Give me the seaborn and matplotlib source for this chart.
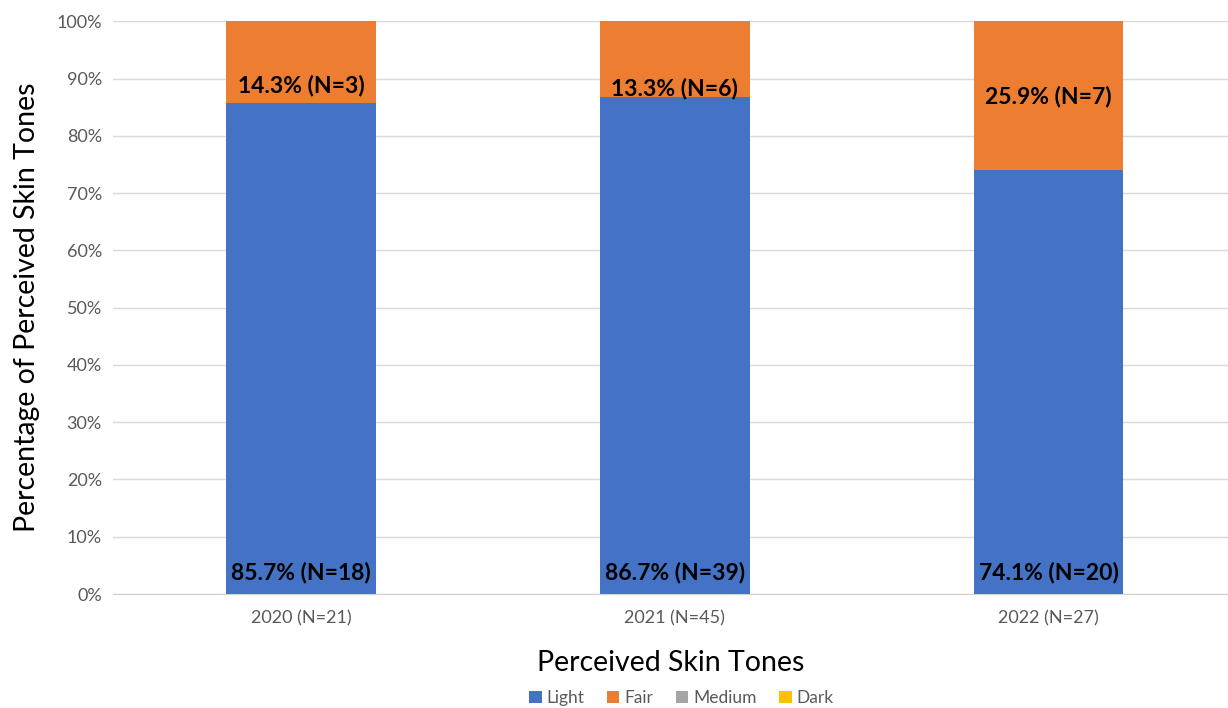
import matplotlib
matplotlib.use("Agg")
import matplotlib.pyplot as plt
from matplotlib.ticker import PercentFormatter
import pandas as pd
import seaborn as sns

# --- Data ---
years = ["2020 (N=21)", "2021 (N=45)", "2022 (N=27)"]
light_pct = [85.7, 86.7, 74.1]
fair_pct = [14.3, 13.3, 25.9]
medium_pct = [0.0, 0.0, 0.0]
dark_pct = [0.0, 0.0, 0.0]
light_n = [18, 39, 20]
fair_n = [3, 6, 7]
# label heights as they sit in the original chart (percent units)
light_label_y = [3.8, 3.8, 3.8]
fair_label_y = [88.7, 88.3, 86.9]

colors = {"Light": "#4472c4", "Fair": "#ed7d31", "Medium": "#a5a5a5", "Dark": "#ffc000"}

sns.set_style("white")
plt.rcParams["font.family"] = ["Lato", "DejaVu Sans"]

df = pd.DataFrame({"year": years, "Light": light_pct, "Fair": fair_pct,
                   "Medium": medium_pct, "Dark": dark_pct})

fig = plt.figure(figsize=(12.28, 7.08), dpi=100)
ax = fig.add_axes([0.092, 0.161, 0.908, 0.809])

# --- Stacked bars ---
bottom = [0.0] * len(years)
for name in ["Light", "Fair", "Medium", "Dark"]:
    sns.barplot(data=df, x="year", y=name, bottom=bottom, color=colors[name],
                width=0.4, label=name, ax=ax, saturation=1, linewidth=0)
    bottom = [b + v for b, v in zip(bottom, df[name])]

# --- Labels ---
for i in range(len(years)):
    ax.text(i, light_label_y[i], f"{light_pct[i]}% (N={light_n[i]})",
            ha="center", va="center", fontsize=16.5, fontweight="bold", color="black")
    ax.text(i, fair_label_y[i], f"{fair_pct[i]}% (N={fair_n[i]})",
            ha="center", va="center", fontsize=16.5, fontweight="bold", color="black")

ax.set_ylim(0, 100)
ax.set_xlim(-0.503, 2.48)
ax.set_yticks(range(0, 101, 10))
ax.yaxis.set_major_formatter(PercentFormatter(decimals=0))
ax.grid(axis="y", color="#d9d9d9", linewidth=1)
ax.set_axisbelow(True)
for side in ["top", "right", "left"]:
    ax.spines[side].set_visible(False)
ax.spines["bottom"].set_color("#d0d0d0")
ax.tick_params(axis="both", length=0, labelsize=13, labelcolor="#595959", pad=8)
ax.tick_params(axis="x", pad=12)

ax.set_ylabel("Percentage of Perceived Skin Tones", fontsize=20.5, labelpad=12,
              color="black")
ax.set_xlabel("Perceived Skin Tones", fontsize=20.5, labelpad=17, color="black")

ax.legend(loc="upper center", bbox_to_anchor=(0.51, -0.14), ncol=4, frameon=False,
          fontsize=12.5, handlelength=0.7, handleheight=0.7, handletextpad=0.3,
          columnspacing=1.3, labelcolor="#595959")

fig.savefig("out.png", dpi=100)
